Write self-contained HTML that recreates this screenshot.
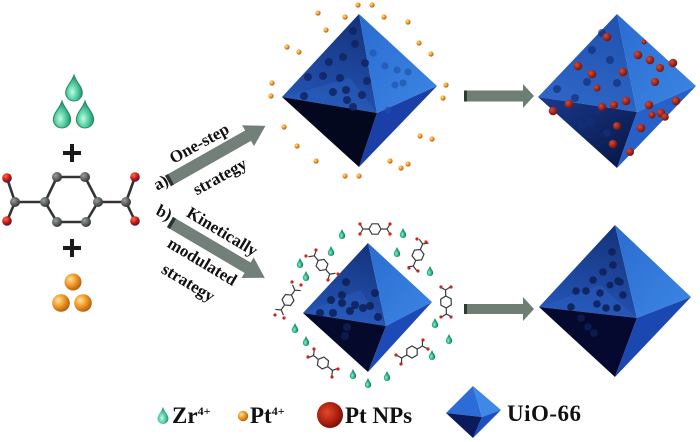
<!DOCTYPE html>
<html><head><meta charset="utf-8"><style>
html,body{margin:0;padding:0;background:#fff;}
svg{display:block;}
text{font-family:"Liberation Serif",serif;font-weight:bold;fill:#111;}
</style></head><body>
<svg width="700" height="442" viewBox="0 0 700 442" xmlns="http://www.w3.org/2000/svg">
<defs>
<radialGradient id="gDrop" cx="0.4" cy="0.65" r="0.6"><stop offset="0" stop-color="#c8f8e6"/><stop offset="0.45" stop-color="#5fd6aa"/><stop offset="1" stop-color="#23906c"/></radialGradient>
<radialGradient id="gDropS" cx="0.4" cy="0.65" r="0.6"><stop offset="0" stop-color="#8ff0cc"/><stop offset="0.5" stop-color="#2bb488"/><stop offset="1" stop-color="#0c6a4c"/></radialGradient>
<radialGradient id="gOr" cx="0.35" cy="0.35" r="0.7"><stop offset="0" stop-color="#ffe49a"/><stop offset="0.45" stop-color="#f4a030"/><stop offset="1" stop-color="#b45a08"/></radialGradient>
<radialGradient id="gC" cx="0.35" cy="0.35" r="0.7"><stop offset="0" stop-color="#9a9e9c"/><stop offset="1" stop-color="#2e3232"/></radialGradient>
<radialGradient id="gO" cx="0.35" cy="0.3" r="0.75"><stop offset="0" stop-color="#ff6a4a"/><stop offset="0.6" stop-color="#c01408"/><stop offset="1" stop-color="#3a1470"/></radialGradient>
<radialGradient id="gPt" cx="0.4" cy="0.4" r="0.65"><stop offset="0" stop-color="#e04a28"/><stop offset="0.6" stop-color="#b02010"/><stop offset="1" stop-color="#6e0e06"/></radialGradient>
<radialGradient id="gNP" cx="0.35" cy="0.35" r="0.7"><stop offset="0" stop-color="#d84a36"/><stop offset="1" stop-color="#6e100a"/></radialGradient>
<linearGradient id="ul1" x1="0.6" y1="0" x2="0.3" y2="1"><stop offset="0" stop-color="#15347e"/><stop offset="1" stop-color="#2556b8"/></linearGradient>
<linearGradient id="ur1" x1="0" y1="0" x2="1" y2="1"><stop offset="0" stop-color="#2a6cd0"/><stop offset="1" stop-color="#3c86e4"/></linearGradient>
<linearGradient id="ul2" x1="0.6" y1="0" x2="0.3" y2="1"><stop offset="0" stop-color="#2152b0"/><stop offset="1" stop-color="#2e68c8"/></linearGradient>
<linearGradient id="ll2" x1="0" y1="0" x2="1" y2="1"><stop offset="0" stop-color="#1a3a90"/><stop offset="1" stop-color="#071440"/></linearGradient>
</defs>

<!-- Left reagents: drops -->
<g fill="url(#gDrop)" stroke="#2a8a68" stroke-width="0.04">
<path transform="translate(74,75) scale(26)" d="M0,0 C0.1,0.3 0.32,0.45 0.32,0.68 A0.32,0.32 0 0 1 -0.32,0.68 C-0.32,0.45 -0.1,0.3 0,0Z"/>
<path transform="translate(62,101) scale(27)" d="M0,0 C0.1,0.3 0.32,0.45 0.32,0.68 A0.32,0.32 0 0 1 -0.32,0.68 C-0.32,0.45 -0.1,0.3 0,0Z"/>
<path transform="translate(85,101) scale(27)" d="M0,0 C0.1,0.3 0.32,0.45 0.32,0.68 A0.32,0.32 0 0 1 -0.32,0.68 C-0.32,0.45 -0.1,0.3 0,0Z"/>
</g>
<!-- plus signs -->
<g stroke="#1a1a1a" stroke-width="4">
<line x1="63" y1="153" x2="81" y2="153"/><line x1="72" y1="144" x2="72" y2="162"/>
<line x1="63" y1="248" x2="81" y2="248"/><line x1="72" y1="239" x2="72" y2="257"/>
</g>
<!-- terephthalic acid -->
<g stroke="#333" stroke-width="2.6" fill="none">
<polygon points="57,177 85,177 98,202 86,222 57,222 45,202"/>
<line x1="15" y1="202" x2="45" y2="202"/><line x1="98" y1="202" x2="126" y2="202"/>
<line x1="15" y1="202" x2="7" y2="178"/><line x1="15" y1="202" x2="7" y2="221"/>
<line x1="126" y1="202" x2="135" y2="177"/><line x1="126" y1="202" x2="135" y2="221"/>
</g>
<g fill="url(#gC)">
<circle cx="57" cy="177" r="5"/><circle cx="85" cy="177" r="5"/><circle cx="98" cy="202" r="5"/>
<circle cx="86" cy="222" r="5"/><circle cx="57" cy="222" r="5"/><circle cx="45" cy="202" r="5"/>
<circle cx="15" cy="202" r="5"/><circle cx="126" cy="202" r="5"/>
</g>
<g fill="url(#gO)">
<circle cx="7" cy="178" r="4.8"/><circle cx="7" cy="221" r="4.8"/>
<circle cx="135" cy="177" r="4.8"/><circle cx="135" cy="221" r="4.8"/>
</g>
<!-- orange spheres -->
<g fill="url(#gOr)">
<circle cx="73" cy="282" r="8.5"/><circle cx="61" cy="303" r="8.8"/><circle cx="83" cy="303" r="8.8"/>
</g>

<!-- diagonal arrows -->
<g transform="translate(168,181) rotate(-29.5)">
<polygon points="0,-6 92,-6 92,-12 112,0 92,12 92,6 0,6" fill="#737f79"/>
<rect x="0" y="-6" width="3.5" height="12" fill="#2c332f"/>
</g>
<g transform="translate(170,222) rotate(30.5)">
<polygon points="0,-6 90,-6 90,-12 110,0 90,12 90,6 0,6" fill="#737f79"/>
<rect x="0" y="-6" width="3.5" height="12" fill="#2c332f"/>
</g>
<!-- labels -->
<g font-size="17">
<text x="199" y="143" text-anchor="middle" dy="6" transform="rotate(-29 199 143)">One-step</text>
<text x="220" y="177" text-anchor="middle" dy="5" transform="rotate(-29 220 177)">strategy</text>
<text x="161" y="183" text-anchor="middle" dy="5" transform="rotate(-29 161 183)">a)</text>
<text x="164" y="213" text-anchor="middle" dy="5" transform="rotate(27 164 213)">b)</text>
<text x="222" y="232" text-anchor="middle" dy="5" transform="rotate(31 222 232)">Kinetically</text>
<text x="202" y="262" text-anchor="middle" dy="5" transform="rotate(31 202 262)">modulated</text>
<text x="188" y="283" text-anchor="middle" dy="5" transform="rotate(31 188 283)">strategy</text>
</g>

<!-- Octahedron 1 (top middle) -->
<g>
<polygon points="359,14 282,97 377,113" fill="url(#ul1)"/>
<polygon points="282,97 377,113 350,78" fill="#2a5fc0" opacity="0.5"/>
<polygon points="359,14 377,113 437,86" fill="url(#ur1)"/>
<polygon points="282,97 377,113 359,167" fill="#04081f"/>
<polygon points="377,113 437,86 359,167" fill="#1a40a8"/>
<g fill="#112462" opacity="0.85">
<circle cx="353" cy="31" r="4"/><circle cx="355" cy="44" r="4"/><circle cx="343" cy="57" r="4"/>
<circle cx="329" cy="62" r="4"/><circle cx="308" cy="77" r="4"/><circle cx="323" cy="76" r="4"/>
<circle cx="340" cy="78" r="4"/><circle cx="333" cy="92" r="4"/><circle cx="346" cy="90" r="4"/>
<circle cx="304" cy="96" r="4"/><circle cx="347" cy="100" r="4"/><circle cx="362" cy="95" r="4"/>
<circle cx="365" cy="63" r="4"/><circle cx="367" cy="81" r="4"/><circle cx="353" cy="107" r="4"/>
</g>
<g fill="#1f4ea8" opacity="0.6">
<circle cx="385" cy="66" r="3.6"/><circle cx="397" cy="70" r="3.6"/><circle cx="408" cy="72" r="3.6"/>
<circle cx="373" cy="53" r="3.6"/><circle cx="395" cy="85" r="3.6"/><circle cx="403" cy="83" r="3.6"/>
<circle cx="388" cy="110" r="3.6"/>
</g>
</g>
<!-- orange dots -->
<g fill="url(#gOr)">
<circle cx="358" cy="5" r="2.6"/><circle cx="372" cy="5" r="2.6"/><circle cx="318" cy="13" r="2.6"/>
<circle cx="345" cy="17" r="2.6"/><circle cx="384" cy="17" r="2.6"/><circle cx="408" cy="22" r="2.6"/>
<circle cx="326" cy="30" r="2.6"/><circle cx="287" cy="47" r="2.6"/><circle cx="299" cy="52" r="2.6"/>
<circle cx="419" cy="43" r="2.6"/><circle cx="431" cy="54" r="2.6"/><circle cx="272" cy="83" r="2.6"/>
<circle cx="271" cy="96" r="2.6"/><circle cx="446" cy="85" r="2.6"/><circle cx="443" cy="98" r="2.6"/>
<circle cx="284" cy="127" r="2.6"/><circle cx="297" cy="146" r="2.6"/><circle cx="316" cy="161" r="2.6"/>
<circle cx="420" cy="136" r="2.6"/><circle cx="432" cy="139" r="2.6"/><circle cx="390" cy="161" r="2.6"/>
<circle cx="401" cy="168" r="2.6"/><circle cx="408" cy="164" r="2.6"/><circle cx="345" cy="176" r="2.6"/>
<circle cx="359" cy="176" r="2.6"/>
</g>

<!-- horizontal arrows -->
<polygon points="464,90.5 523,90.5 523,84 534,96 523,108 523,101.5 464,101.5" fill="#6f7e72"/>
<rect x="464" y="90.5" width="3" height="11" fill="#2e3a30"/>
<polygon points="464,304 523,304 523,297 534,309 523,321 523,314 464,314" fill="#6f7e72"/>
<rect x="464" y="304" width="3" height="10" fill="#2e3a30"/>

<!-- Octahedron 2 (top right) -->
<g>
<polygon points="617,14 538,97 637,112" fill="url(#ul2)"/>
<polygon points="617,14 637,112 696,86" fill="url(#ur1)"/>
<polygon points="538,97 637,112 617,168" fill="url(#ll2)"/>
<polygon points="637,112 696,86 617,168" fill="#2660c8"/>
<g fill="#13307a" opacity="0.7">
<circle cx="592" cy="50" r="4"/><circle cx="602" cy="33" r="4"/><circle cx="587" cy="82" r="4"/>
<circle cx="557" cy="89" r="4"/><circle cx="575" cy="98" r="4"/><circle cx="582" cy="126" r="4"/>
<circle cx="590" cy="122" r="4"/><circle cx="607" cy="133" r="4"/><circle cx="597" cy="110" r="4"/>
<circle cx="617" cy="83" r="4"/><circle cx="610" cy="60" r="4"/>
</g>
<g fill="url(#gNP)">
<circle cx="607" cy="37" r="4.3"/><circle cx="644" cy="42" r="2.5"/><circle cx="638" cy="55" r="4.3"/>
<circle cx="650" cy="60" r="4.3"/><circle cx="673" cy="63" r="4.3"/><circle cx="660" cy="68" r="4"/>
<circle cx="578" cy="66" r="4.3"/><circle cx="592" cy="74" r="4.3"/><circle cx="623" cy="72" r="4.3"/>
<circle cx="655" cy="82" r="4"/><circle cx="597" cy="88" r="3.5"/><circle cx="626" cy="101" r="4.3"/>
<circle cx="676" cy="101" r="4.3"/><circle cx="649" cy="105" r="4.3"/><circle cx="661" cy="113" r="4.3"/>
<circle cx="652" cy="115" r="3.5"/><circle cx="665" cy="117" r="3.8"/><circle cx="569" cy="104" r="4.3"/>
<circle cx="553" cy="111" r="4.3"/><circle cx="602" cy="107" r="4"/><circle cx="614" cy="105" r="4"/>
<circle cx="617" cy="126" r="4"/><circle cx="641" cy="128" r="4.3"/><circle cx="613" cy="144" r="4.3"/>
<circle cx="630" cy="152" r="4"/>
</g>
</g>

<!-- Octahedron 3 (bottom middle) -->
<g>
<polygon points="368,243 303,313 386,326" fill="url(#ul1)"/>
<polygon points="303,313 386,326 360,290" fill="#2a5fc0" opacity="0.45"/>
<polygon points="368,243 386,326 432,302" fill="url(#ur1)"/>
<polygon points="303,313 386,326 368,372" fill="#050a2c"/>
<polygon points="386,326 432,302 368,372" fill="#1c4ab6"/>
<g fill="#0e1f55" opacity="0.85">
<circle cx="346" cy="282" r="4"/><circle cx="331" cy="300" r="4"/><circle cx="342" cy="295" r="4"/>
<circle cx="342" cy="303" r="4"/><circle cx="350" cy="311" r="4"/><circle cx="333" cy="313" r="4"/>
<circle cx="320" cy="313" r="4"/><circle cx="355" cy="305" r="4"/><circle cx="363" cy="308" r="4"/>
<circle cx="370" cy="306" r="4"/><circle cx="378" cy="317" r="4"/><circle cx="375" cy="293" r="4"/>
<circle cx="347" cy="327" r="4"/><circle cx="345" cy="336" r="4"/>
</g>
</g>
<!-- linkers around oct 3 -->
<g id="lk" stroke="#3a3a3a" stroke-width="1.2" fill="none">
<g transform="translate(375,229) rotate(0)"><polygon points="6,0 3,5.2 -3,5.2 -6,0 -3,-5.2 3,-5.2"/><path d="M6,0H12L15,-5M12,0L15,5M-6,0H-12L-15,-5M-12,0L-15,5"/></g>
<g transform="translate(322,265) rotate(50)"><polygon points="6,0 3,5.2 -3,5.2 -6,0 -3,-5.2 3,-5.2"/><path d="M6,0H12L15,-5M12,0L15,5M-6,0H-12L-15,-5M-12,0L-15,5"/></g>
<g transform="translate(288,300) rotate(-55)"><polygon points="6,0 3,5.2 -3,5.2 -6,0 -3,-5.2 3,-5.2"/><path d="M6,0H12L15,-5M12,0L15,5M-6,0H-12L-15,-5M-12,0L-15,5"/></g>
<g transform="translate(418,255) rotate(113)"><polygon points="6,0 3,5.2 -3,5.2 -6,0 -3,-5.2 3,-5.2"/><path d="M6,0H12L15,-5M12,0L15,5M-6,0H-12L-15,-5M-12,0L-15,5"/></g>
<g transform="translate(446,302) rotate(88)"><polygon points="6,0 3,5.2 -3,5.2 -6,0 -3,-5.2 3,-5.2"/><path d="M6,0H12L15,-5M12,0L15,5M-6,0H-12L-15,-5M-12,0L-15,5"/></g>
<g transform="translate(412,352) rotate(-30)"><polygon points="6,0 3,5.2 -3,5.2 -6,0 -3,-5.2 3,-5.2"/><path d="M6,0H12L15,-5M12,0L15,5M-6,0H-12L-15,-5M-12,0L-15,5"/></g>
<g transform="translate(323,363) rotate(38)"><polygon points="6,0 3,5.2 -3,5.2 -6,0 -3,-5.2 3,-5.2"/><path d="M6,0H12L15,-5M12,0L15,5M-6,0H-12L-15,-5M-12,0L-15,5"/></g>
</g>
<g fill="#c8281a">
<circle cx="360" cy="224" r="1.6"/><circle cx="360" cy="234" r="1.6"/><circle cx="390" cy="224" r="1.6"/><circle cx="390" cy="234" r="1.6"/>
<circle cx="316" cy="250" r="1.6"/><circle cx="306" cy="256" r="1.6"/><circle cx="338" cy="274" r="1.6"/><circle cx="328" cy="280" r="1.6"/>
<circle cx="301" cy="285" r="1.6"/><circle cx="292" cy="282" r="1.6"/><circle cx="284" cy="318" r="1.6"/><circle cx="275" cy="315" r="1.6"/>
<circle cx="417" cy="239" r="1.6"/><circle cx="426" cy="242" r="1.6"/><circle cx="409" cy="268" r="1.6"/><circle cx="418" cy="271" r="1.6"/>
<circle cx="441" cy="287" r="1.6"/><circle cx="451" cy="287" r="1.6"/><circle cx="441" cy="317" r="1.6"/><circle cx="451" cy="317" r="1.6"/>
<circle cx="423" cy="340" r="1.6"/><circle cx="428" cy="349" r="1.6"/><circle cx="396" cy="355" r="1.6"/><circle cx="401" cy="364" r="1.6"/>
<circle cx="314" cy="349" r="1.6"/><circle cx="308" cy="357" r="1.6"/><circle cx="338" cy="369" r="1.6"/><circle cx="332" cy="377" r="1.6"/>
</g>
<!-- small drops -->
<g fill="url(#gDropS)">
<path transform="translate(342,229) scale(10)" d="M0,0 C0.1,0.3 0.32,0.45 0.32,0.68 A0.32,0.32 0 0 1 -0.32,0.68 C-0.32,0.45 -0.1,0.3 0,0Z"/>
<path transform="translate(403,228) scale(10)" d="M0,0 C0.1,0.3 0.32,0.45 0.32,0.68 A0.32,0.32 0 0 1 -0.32,0.68 C-0.32,0.45 -0.1,0.3 0,0Z"/>
<path transform="translate(331,246) scale(10)" d="M0,0 C0.1,0.3 0.32,0.45 0.32,0.68 A0.32,0.32 0 0 1 -0.32,0.68 C-0.32,0.45 -0.1,0.3 0,0Z"/>
<path transform="translate(397,247) scale(10)" d="M0,0 C0.1,0.3 0.32,0.45 0.32,0.68 A0.32,0.32 0 0 1 -0.32,0.68 C-0.32,0.45 -0.1,0.3 0,0Z"/>
<path transform="translate(300,258) scale(10)" d="M0,0 C0.1,0.3 0.32,0.45 0.32,0.68 A0.32,0.32 0 0 1 -0.32,0.68 C-0.32,0.45 -0.1,0.3 0,0Z"/>
<path transform="translate(306,271) scale(10)" d="M0,0 C0.1,0.3 0.32,0.45 0.32,0.68 A0.32,0.32 0 0 1 -0.32,0.68 C-0.32,0.45 -0.1,0.3 0,0Z"/>
<path transform="translate(430,266) scale(10)" d="M0,0 C0.1,0.3 0.32,0.45 0.32,0.68 A0.32,0.32 0 0 1 -0.32,0.68 C-0.32,0.45 -0.1,0.3 0,0Z"/>
<path transform="translate(295,323) scale(10)" d="M0,0 C0.1,0.3 0.32,0.45 0.32,0.68 A0.32,0.32 0 0 1 -0.32,0.68 C-0.32,0.45 -0.1,0.3 0,0Z"/>
<path transform="translate(306,336) scale(10)" d="M0,0 C0.1,0.3 0.32,0.45 0.32,0.68 A0.32,0.32 0 0 1 -0.32,0.68 C-0.32,0.45 -0.1,0.3 0,0Z"/>
<path transform="translate(435,318) scale(10)" d="M0,0 C0.1,0.3 0.32,0.45 0.32,0.68 A0.32,0.32 0 0 1 -0.32,0.68 C-0.32,0.45 -0.1,0.3 0,0Z"/>
<path transform="translate(449,334) scale(10)" d="M0,0 C0.1,0.3 0.32,0.45 0.32,0.68 A0.32,0.32 0 0 1 -0.32,0.68 C-0.32,0.45 -0.1,0.3 0,0Z"/>
<path transform="translate(432,350) scale(10)" d="M0,0 C0.1,0.3 0.32,0.45 0.32,0.68 A0.32,0.32 0 0 1 -0.32,0.68 C-0.32,0.45 -0.1,0.3 0,0Z"/>
<path transform="translate(353,369) scale(10)" d="M0,0 C0.1,0.3 0.32,0.45 0.32,0.68 A0.32,0.32 0 0 1 -0.32,0.68 C-0.32,0.45 -0.1,0.3 0,0Z"/>
<path transform="translate(368,378) scale(10)" d="M0,0 C0.1,0.3 0.32,0.45 0.32,0.68 A0.32,0.32 0 0 1 -0.32,0.68 C-0.32,0.45 -0.1,0.3 0,0Z"/>
<path transform="translate(387,371) scale(10)" d="M0,0 C0.1,0.3 0.32,0.45 0.32,0.68 A0.32,0.32 0 0 1 -0.32,0.68 C-0.32,0.45 -0.1,0.3 0,0Z"/>
</g>

<!-- Octahedron 4 (bottom right) -->
<g>
<polygon points="615,225 539,307 637,318" fill="url(#ul1)"/>
<polygon points="539,307 637,318 600,285" fill="#2a5fc0" opacity="0.45"/>
<polygon points="615,225 637,318 691,297" fill="url(#ur1)"/>
<polygon points="539,307 637,318 615,377" fill="#050930"/>
<polygon points="637,318 691,297 615,377" fill="#1b47b0"/>
<g fill="#0e1f55" opacity="0.85">
<circle cx="612" cy="252" r="3.8"/><circle cx="613" cy="265" r="3.8"/><circle cx="603" cy="272" r="3.8"/>
<circle cx="593" cy="280" r="3.8"/><circle cx="576" cy="291" r="3.8"/><circle cx="586" cy="291" r="3.8"/>
<circle cx="600" cy="293" r="3.8"/><circle cx="620" cy="282" r="3.8"/><circle cx="623" cy="295" r="3.8"/>
<circle cx="571" cy="307" r="3.8"/><circle cx="597" cy="304" r="3.8"/><circle cx="606" cy="308" r="3.8"/>
<circle cx="617" cy="308" r="3.8"/><circle cx="581" cy="318" r="3.8"/><circle cx="588" cy="327" r="3.8"/>
<circle cx="594" cy="333" r="3.8"/><circle cx="618" cy="281" r="3.8"/><circle cx="610" cy="285" r="3.5"/>
</g>
</g>

<!-- Legend -->
<path transform="translate(163,407) scale(17)" fill="url(#gDrop)" d="M0,0 C0.1,0.3 0.32,0.45 0.32,0.68 A0.32,0.32 0 0 1 -0.32,0.68 C-0.32,0.45 -0.1,0.3 0,0Z"/>
<text x="172" y="423" font-size="23">Zr<tspan font-size="12" dy="-8">4+</tspan></text>
<circle cx="243" cy="416" r="5.2" fill="url(#gOr)"/>
<text x="250" y="423" font-size="23">Pt<tspan font-size="12" dy="-8">4+</tspan></text>
<circle cx="330" cy="415" r="13" fill="url(#gPt)"/>
<text x="345" y="423" font-size="23">Pt NPs</text>
<g>
<polygon points="473,386 446,413 482,417" fill="#2d6cd6"/>
<polygon points="473,386 482,417 501,410" fill="#3f88e6"/>
<polygon points="446,413 482,417 473,438" fill="#0a1a5c"/>
<polygon points="482,417 501,410 473,438" fill="#1d4fc0"/>
</g>
<text x="507" y="421" font-size="23" letter-spacing="0.5" style="font-weight:bold">UiO-66</text>
</svg>
</body></html>
